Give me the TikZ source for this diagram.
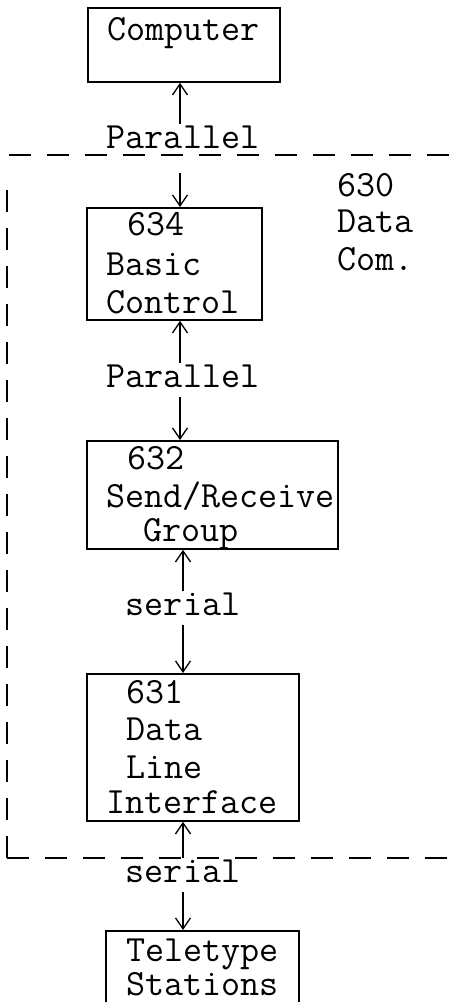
\documentclass[tikz,border=0pt]{standalone}
\usepackage{fontspec}
\usetikzlibrary{arrows.meta}
\begin{document}
\begin{tikzpicture}[x=1pt,y=-1pt,
  box/.style={draw,line width=1.8pt,rectangle,inner sep=0pt,anchor=north west},
  txt/.style={inner sep=0pt,anchor=base west,text height=22pt,text depth=4pt,font=\ttfamily\fontsize{37}{40}\selectfont},
  lbl/.style={inner xsep=0pt,inner ysep=0pt,anchor=base,text height=24pt,text depth=10pt,font=\ttfamily\fontsize{37}{40}\selectfont},
  conn/.style={line width=1.1pt,-{Straight Barb[length=11pt,width=15pt,line width=1.3pt]}},
  dashline/.style={line width=2pt,dash pattern=on 22pt off 16pt}]
\useasboundingbox (0,0) rectangle (458,1002);
\clip (0,0) rectangle (458,1002);
% boxes
\node[box,minimum width=192pt,minimum height=74pt] (comp) at (87,7) {};
\node[box,minimum width=175pt,minimum height=112pt] (b634) at (86,207) {};
\node[box,minimum width=251pt,minimum height=108pt] (b632) at (86,440) {};
\node[box,minimum width=212pt,minimum height=147pt] (b631) at (86,673) {};
\node[box,minimum width=193pt,minimum height=120pt] (btt) at (105,930) {};
% box texts
\node[txt] (tcomp) at (107,40) {Computer};
\node[txt] (t634a) at (127,235) {634};
\node[txt] (t634b) at (106,275) {Basic};
\node[txt] (t634c) at (106,313) {Control};
\node[txt] (t632a) at (127,469) {632};
\node[txt] (t632b) at (106,507) {Send/Receive};
\node[txt] (t632c) at (143,541) {Group};
\node[txt] (t631a) at (126,703) {631};
\node[txt] (t631b) at (126,740) {Data};
\node[txt] (t631c) at (126,778) {Line};
\node[txt] (t631d) at (106,813) {Interface};
\node[txt] (ttta) at (126,961) {Teletype};
\node[txt] (tttb) at (126,995) {Stations};
\node[txt] (t630a) at (337,196) {630};
\node[txt] (t630b) at (337,232) {Data};
\node[txt] (t630c) at (337,270) {Com.};
% labels
\node[lbl] (p1) at (183,148) {Parallel};
\node[lbl] (p2) at (183,387) {Parallel};
\node[lbl] (s1) at (183,615) {serial};
\node[lbl] (s2) at (183,882) {serial};
% dashed boundary
\coordinate (dtl) at (9,155);
\coordinate (dtr) at (453,155);
\coordinate (dvt) at (7,175);
\coordinate (dbl) at (7,858);
\coordinate (dbr) at (453,858);
\draw[dashline] (dtl) -- (dtr);
\draw[dashline] (dbl) -- (dvt);
\draw[dashline] (dbl) -- (dbr);
% connector x positions
\coordinate (xa) at (180,0);
\coordinate (xb) at (183,0);
% connectors
\draw[conn] (xa |- p1.north) -- (xa |- comp.south);
\draw[conn,shorten <=15pt] (xa |- p1.south) -- (xa |- b634.north);
\draw[conn] (xa |- p2.north) -- (xa |- b634.south);
\draw[conn] (xa |- p2.south) -- (xa |- b632.north);
\draw[conn] (xb |- s1.north) -- (xb |- b632.south);
\draw[conn] (xb |- s1.south) -- (xb |- b631.north);
\draw[conn] (xb |- s2.north) -- (xb |- b631.south);
\draw[conn] (xb |- s2.south) -- (xb |- btt.north);
\end{tikzpicture}
\end{document}
